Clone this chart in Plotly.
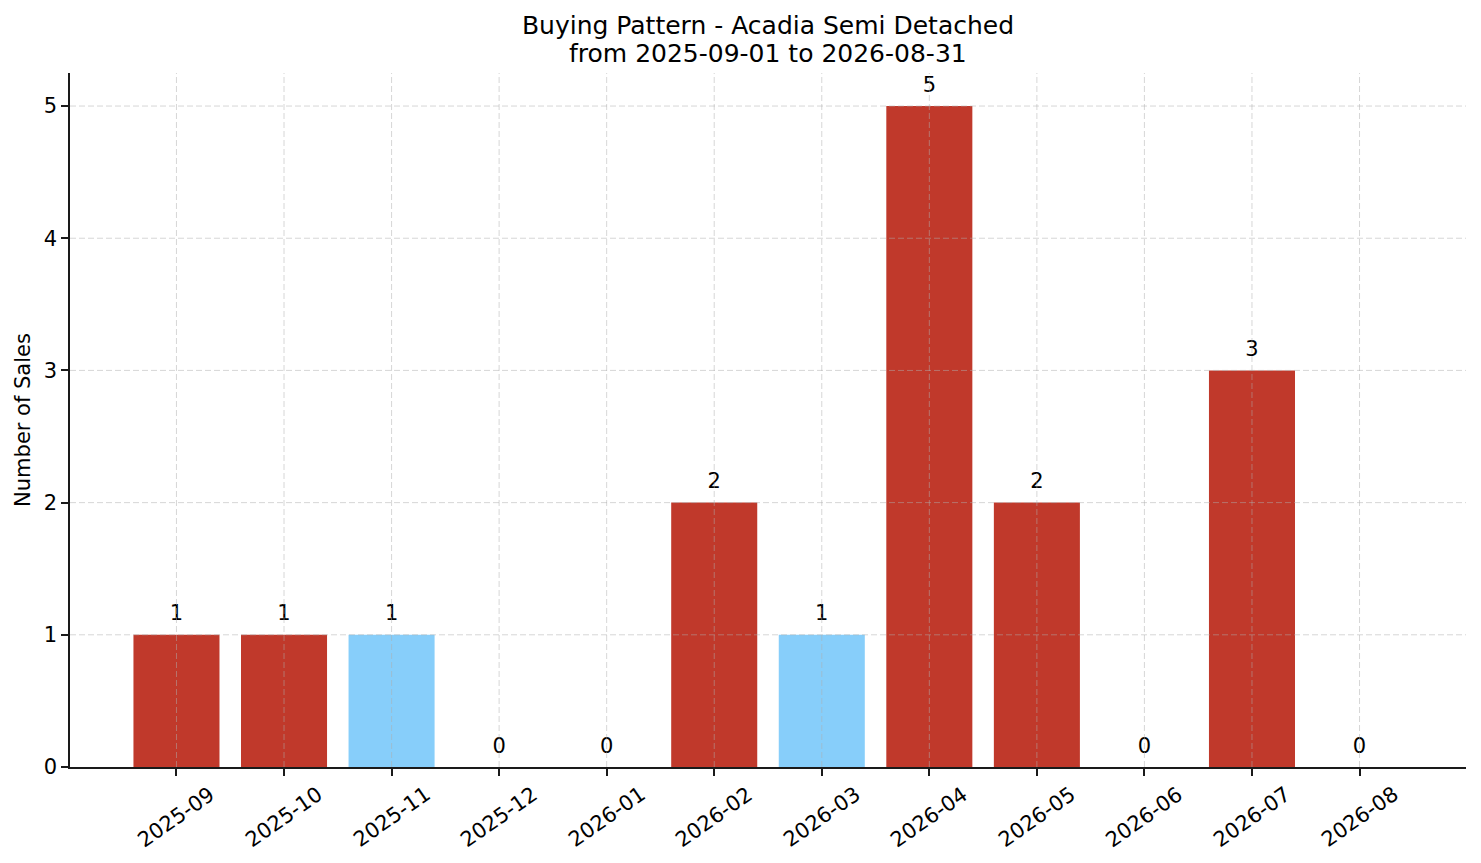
import plotly.graph_objects as go

months = ['2025-09', '2025-10', '2025-11', '2025-12', '2026-01', '2026-02',
          '2026-03', '2026-04', '2026-05', '2026-06', '2026-07', '2026-08']
sales = [1, 1, 1, 0, 0, 2, 1, 5, 2, 0, 3, 0]
highlight_months = ['2025-11', '2026-03']
y_ticks = [0, 1, 2, 3, 4, 5]

title_line1 = 'Buying Pattern - Acadia Semi Detached'
title_line2 = 'from 2025-09-01 to 2026-08-31'

RED = '#C0392B'
BLUE = '#87CEFA'
GRID = 'rgba(176,176,176,0.5)'
AXIS = '#1a1a1a'
colors = [BLUE if m in highlight_months else RED for m in months]
idx = list(range(len(months)))

fig = go.Figure()
fig.add_trace(go.Bar(
    x=idx, y=sales,
    marker_color=colors,
    marker_line_width=0,
    width=0.8,
    hoverinfo='skip',
))
# value labels just above each bar
fig.add_trace(go.Scatter(
    x=idx, y=[v + 0.07 for v in sales],
    mode='text',
    text=[str(v) for v in sales],
    textposition='top center',
    textfont=dict(size=21, color='#000000'),
    hoverinfo='skip',
    cliponaxis=False,
))

# dashed grid drawn over the bars, like the original
for i in idx:
    fig.add_shape(type='line', xref='x', yref='y domain', x0=i, x1=i, y0=0, y1=1,
                  line=dict(color=GRID, width=1, dash='6px,3px'), layer='above')
for t in y_ticks[1:]:
    fig.add_shape(type='line', xref='x domain', yref='y', x0=0, x1=1, y0=t, y1=t,
                  line=dict(color=GRID, width=1, dash='6px,3px'), layer='above')

# rotated month labels centred under the ticks
for i, m in zip(idx, months):
    fig.add_annotation(x=i, xref='x', y=0, yref='paper', text=m, showarrow=False,
                       textangle=-35, xanchor='center', yanchor='top', yshift=-12,
                       font=dict(size=21, color='#000000'))

# second title line, placed below the main title
fig.add_annotation(x=0.5, xref='paper', y=1, yref='paper', text=title_line2,
                   showarrow=False, xanchor='center', yanchor='middle', yshift=20,
                   font=dict(size=25, color='#000000'))

fig.update_layout(
    width=1465, height=847,
    margin=dict(l=62, r=7, t=65, b=88),
    plot_bgcolor='white',
    paper_bgcolor='white',
    showlegend=False,
    font=dict(family='DejaVu Sans, sans-serif', size=21, color='#000000'),
    title=dict(
        text=title_line1,
        x=0.5, xanchor='center', xref='paper',
        y=1 - 17 / 847, yanchor='middle', yref='container',
        font=dict(size=25),
    ),
    xaxis=dict(
        range=[-0.99, 11.99],
        tickmode='array', tickvals=idx, showticklabels=False,
        ticks='outside', ticklen=7, tickwidth=1.6, tickcolor=AXIS,
        showline=True, linecolor=AXIS, linewidth=1.6,
        showgrid=False, zeroline=False,
    ),
    yaxis=dict(
        range=[0, 5.25],
        tickmode='array', tickvals=y_ticks,
        ticks='outside', ticklen=7, tickwidth=1.6, tickcolor=AXIS,
        showline=True, linecolor=AXIS, linewidth=1.6,
        showgrid=False, zeroline=False,
        tickfont=dict(size=21),
        title=dict(text='Number of Sales', font=dict(size=21), standoff=7),
    ),
)

fig.write_html('out.html')
